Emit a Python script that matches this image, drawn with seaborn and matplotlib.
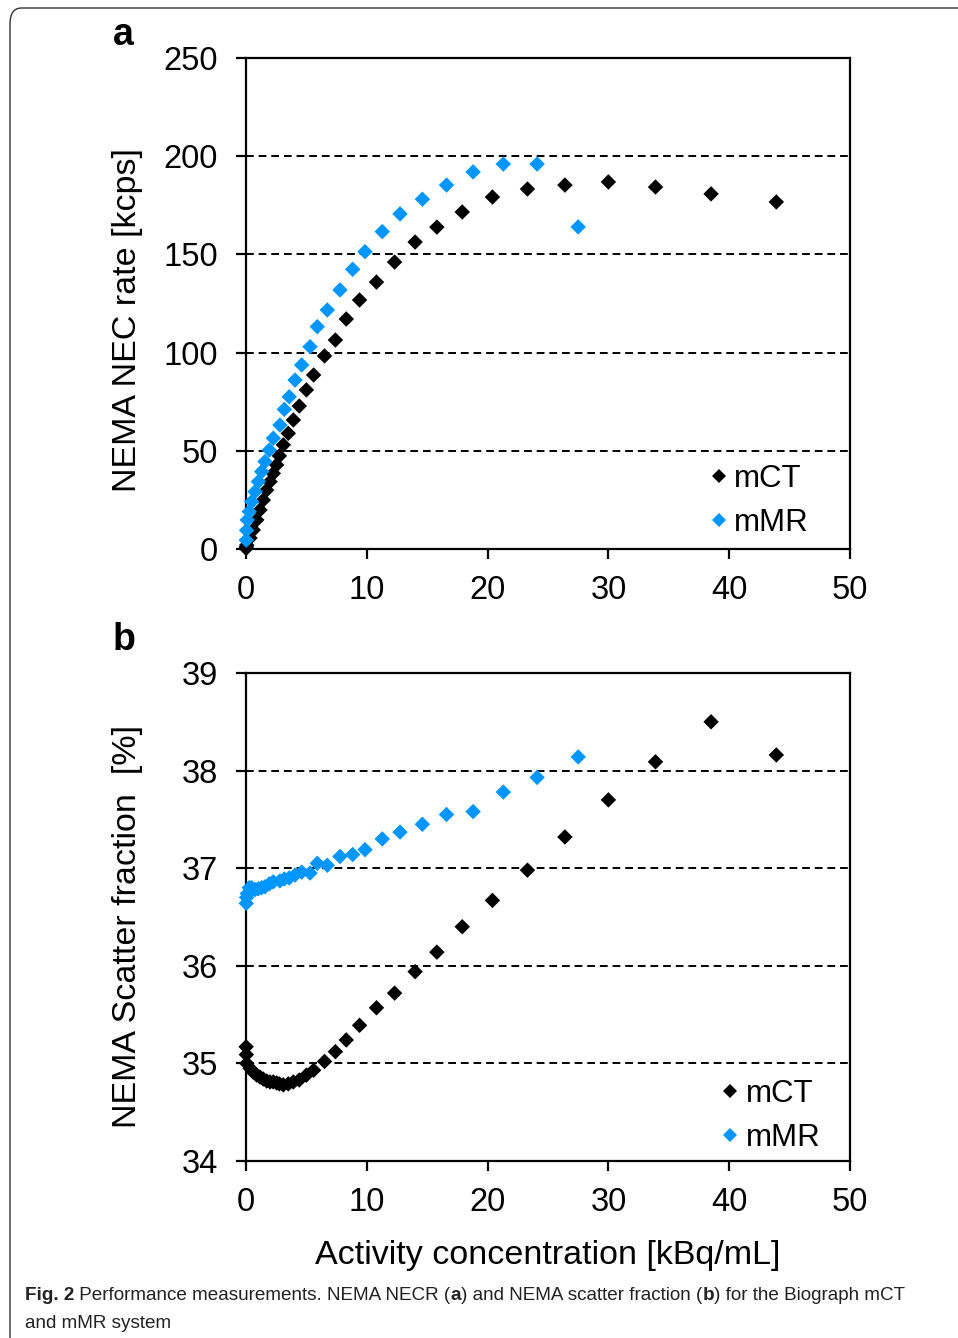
import matplotlib
matplotlib.use("Agg")
import matplotlib.pyplot as plt
from matplotlib.patches import FancyBboxPatch
import seaborn as sns
import pandas as pd

# activity concentration [kBq/mL]
mct_x = [0.01, 0.03, 0.06, 0.33, 0.60, 0.89, 1.16, 1.43, 1.71, 1.99, 2.26, 2.54,
         2.76, 3.09, 3.50, 3.92, 4.41, 5.0, 5.6, 6.5, 7.4, 8.3, 9.4, 10.8, 12.3,
         14.0, 15.8, 17.9, 20.4, 23.3, 26.4, 30.0, 33.9, 38.5, 43.9]
mct_necr = [0.3, 1.0, 2.0, 5.6, 9.7, 14.8, 19.9, 24.9, 30.0, 34.3, 38.5, 42.8,
            47.4, 53.0, 58.9, 65.7, 72.8, 81.0, 88.6, 98.3, 106.4, 117.1, 126.8,
            135.9, 146.1, 156.3, 163.9, 171.6, 179.2, 183.3, 185.3, 186.9, 184.3,
            180.8, 176.7]
mct_sf = [35.17, 35.09, 35.00, 34.95, 34.91, 34.88, 34.86, 34.84, 34.82, 34.81,
          34.81, 34.80, 34.79, 34.78, 34.79, 34.81, 34.83, 34.88, 34.93, 35.02,
          35.12, 35.24, 35.39, 35.57, 35.72, 35.94, 36.14, 36.40, 36.67, 36.98,
          37.32, 37.70, 38.09, 38.50, 38.16]

mmr_x = [0.02, 0.05, 0.11, 0.27, 0.47, 0.75, 1.02, 1.30, 1.57, 1.93, 2.26, 2.81,
         3.17, 3.58, 4.06, 4.61, 5.30, 5.90, 6.73, 7.78, 8.83, 9.85, 11.28, 12.75,
         14.6, 16.6, 18.8, 21.3, 24.1, 27.5]
mmr_necr = [4.5, 9.5, 14.8, 19.0, 24.1, 29.2, 34.3, 39.4, 44.5, 50.4, 56.4, 63.1,
            71.1, 77.5, 86.0, 93.7, 103.0, 113.2, 121.7, 131.9, 142.4, 151.4, 161.6,
            170.6, 178.1, 185.3, 192.0, 196.0, 196.0, 164.0]
mmr_sf = [36.64, 36.70, 36.74, 36.80, 36.80, 36.78, 36.79, 36.80, 36.81, 36.84,
          36.86, 36.87, 36.89, 36.90, 36.93, 36.96, 36.95, 37.05, 37.03, 37.12,
          37.14, 37.19, 37.30, 37.37, 37.45, 37.55, 37.58, 37.78, 37.93, 38.14]

systems = ["mCT", "mMR"]
colors = {"mCT": "#000000", "mMR": "#0096ff"}

df = pd.concat([
    pd.DataFrame({"x": mct_x, "necr": mct_necr, "sf": mct_sf, "system": "mCT"}),
    pd.DataFrame({"x": mmr_x, "necr": mmr_necr, "sf": mmr_sf, "system": "mMR"}),
])

sns.set_theme(style="ticks")
plt.rcParams["font.family"] = ["Liberation Sans", "DejaVu Sans"]
plt.rcParams["text.color"] = "black"
plt.rcParams["axes.labelcolor"] = "black"
plt.rcParams["axes.linewidth"] = 1.6
plt.rcParams["xtick.major.width"] = 1.6
plt.rcParams["ytick.major.width"] = 1.6
plt.rcParams["xtick.major.size"] = 7.5
plt.rcParams["ytick.major.size"] = 7.5
plt.rcParams["xtick.major.pad"] = 11
plt.rcParams["ytick.major.pad"] = 12.5

W, H = 958, 1338
fig = plt.figure(figsize=(W / 100, H / 100), dpi=100)

# rounded frame round the figure
frame = FancyBboxPatch((10 / W, -20 / H), 980 / W, (H + 12) / H,
                       boxstyle="round,pad=0,rounding_size=0.012",
                       transform=fig.transFigure, fill=False,
                       edgecolor="#333333", linewidth=1.0)
fig.patches.append(frame)

ax_a = fig.add_axes([246 / W, 1 - 549 / H, 604 / W, 491 / H])
ax_b = fig.add_axes([246 / W, 1 - 1161 / H, 604 / W, 488 / H])

panels = [
    (ax_a, "necr", (0, 250), [0, 50, 100, 150, 200, 250], [50, 100, 150, 200],
     "NEMA NEC rate [kcps]", 0.466, (0.842, 0.098)),
    (ax_b, "sf", (34, 39), [34, 35, 36, 37, 38, 39], [35, 36, 37, 38],
     "NEMA Scatter fraction  [%]", 0.48, (0.861, 0.093)),
]

for ax, col, ylim, yticks, grid, ylabel, ylab_y, leg_pos in panels:
    for y in grid:
        ax.axhline(y, color="black", linestyle=(0, (4, 2.5)), linewidth=1.4, zorder=0)
    sns.scatterplot(data=df, x="x", y=col, hue="system", hue_order=systems,
                    palette=colors, marker="D", s=62, linewidth=0, ax=ax,
                    zorder=3, clip_on=False)
    ax.set_xlim(0, 50)
    ax.set_ylim(*ylim)
    ax.set_xticks([0, 10, 20, 30, 40, 50])
    ax.set_yticks(yticks)
    ax.tick_params(labelsize=23.5, colors="black", direction="out")
    ax.set_ylabel(ylabel, fontsize=24.5)
    ax.yaxis.set_label_coords(-0.17, ylab_y)
    ax.set_xlabel("")
    for sp in ax.spines.values():
        sp.set_color("black")
    handles, labels = ax.get_legend_handles_labels()
    ax.legend(handles, labels, loc="center", bbox_to_anchor=leg_pos, frameon=False,
              fontsize=22.5, markerscale=0.85, handletextpad=-0.1, labelspacing=0.45,
              borderaxespad=0, handlelength=1.2)

ax_b.set_xlabel("Activity concentration [kBq/mL]", fontsize=24.5)
ax_b.xaxis.set_label_coords(0.5, -0.161)

fig.text(123 / W, 1 - 35 / H, "a", fontsize=27, fontweight="bold", ha="center", va="center")
fig.text(124 / W, 1 - 640 / H, "b", fontsize=27, fontweight="bold", ha="center", va="center")

# caption, written piece by piece so that some parts can be bold
cap_font = ["Liberation Sans", "DejaVu Sans"]
cap_size = 13.6
fig.canvas.draw()
renderer = fig.canvas.get_renderer()


def caption_line(pieces, y):
    x = 25
    for txt, bold in pieces:
        t = fig.text(x / W, 1 - y / H, txt, fontsize=cap_size, family=cap_font,
                     fontweight="bold" if bold else "normal", va="center",
                     color="#222222")
        x = t.get_window_extent(renderer).x1


caption_line([("Fig. 2", True), (" Performance measurements. NEMA NECR (", False),
              ("a", True), (") and NEMA scatter fraction (", False), ("b", True),
              (") for the Biograph mCT", False)], 1296)
caption_line([("and mMR system", False)], 1323)

fig.savefig("out.png", dpi=100)
